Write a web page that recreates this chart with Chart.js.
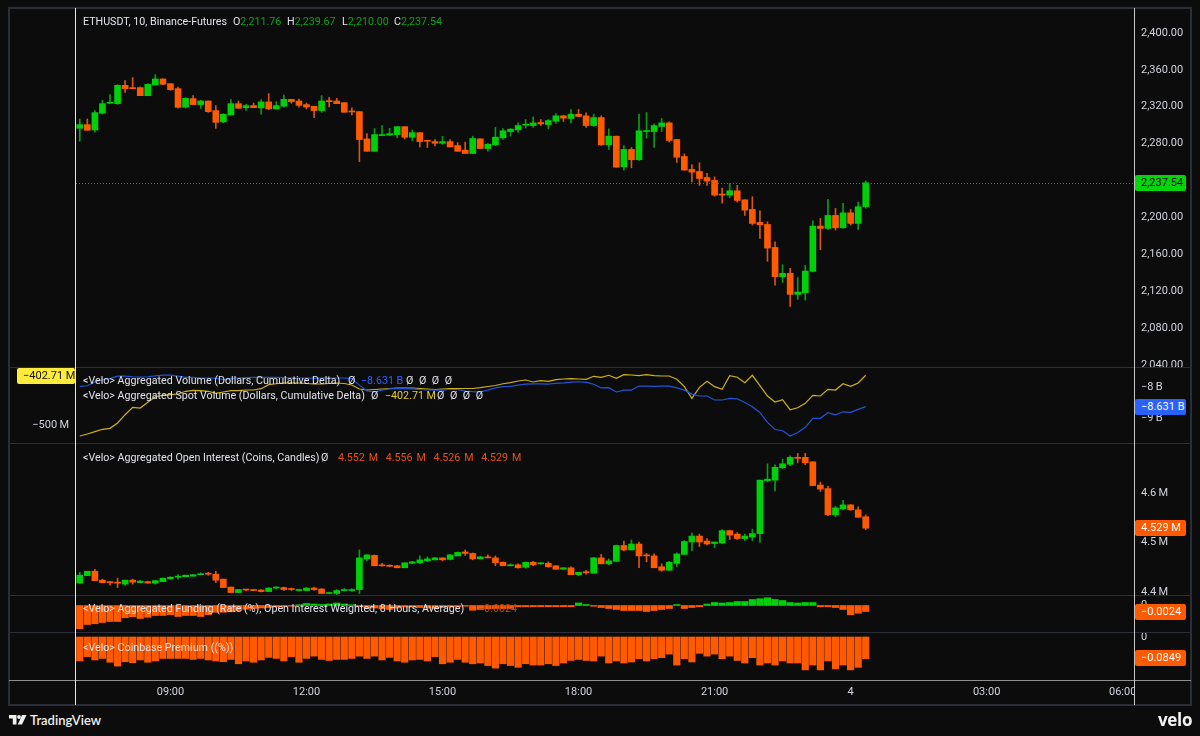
<!DOCTYPE html>
<html><head><meta charset="utf-8">
<script src="https://cdn.jsdelivr.net/npm/chart.js@4/dist/chart.umd.min.js"></script>
<style>
html,body{margin:0;padding:0;background:#0c0c0c;overflow:hidden}
#wrap{position:relative;width:1200px;height:736px;background:#0c0c0c;font-family:Roboto,sans-serif;color:#d1d4dc}
canvas{position:absolute;left:0}
.rule{position:absolute;background:#2a2e39}
.leg{position:absolute;left:83px;font-size:10.7px;line-height:14px;white-space:pre;color:#e0e3ea}
.tag{position:absolute;left:1135px;width:45px;padding-left:6px;height:16px;line-height:16px;font-size:11px;color:#fff;border-radius:2px;white-space:pre}
.g{color:#08a318}.o{color:#e8530f}.b{color:#2962ff}.y{color:#e6cf20}
.n{word-spacing:2.9px}
</style></head><body><div id="wrap">
<canvas id="c1" width="1200" height="359" style="top:8px"></canvas>
<canvas id="c2" width="1200" height="76" style="top:367px"></canvas>
<canvas id="c3" width="1200" height="152" style="top:443px"></canvas>
<canvas id="c4" width="1200" height="37" style="top:595px"></canvas>
<canvas id="c5" width="1200" height="73" style="top:632px"></canvas>

<div class="rule" style="left:1135px;top:681px;width:55px;height:23px;background:#0c0c0c"></div>
<div class="rule" style="left:9px;top:7px;width:1182px;height:2px"></div>
<div class="rule" style="left:9px;top:704px;width:1182px;height:2px"></div>
<div class="rule" style="left:8px;top:7px;width:2px;height:699px"></div>
<div class="rule" style="left:1190px;top:7px;width:2px;height:699px"></div>
<div class="rule" style="left:9px;top:367px;width:1182px;height:1px"></div>
<div class="rule" style="left:9px;top:443px;width:1182px;height:1px"></div>
<div class="rule" style="left:9px;top:595px;width:1182px;height:1px"></div>
<div class="rule" style="left:9px;top:632px;width:1182px;height:1px"></div>
<div class="rule" style="left:9px;top:680px;width:1182px;height:1px;background:#8f8f8f"></div>
<div class="rule" style="left:75px;top:8px;width:1px;height:697px;background:#e6e6e6"></div>
<div class="rule" style="left:1134px;top:8px;width:1px;height:697px;background:#c8c8c8"></div>

<div class="leg" style="top:15px">ETHUSDT, 10, Binance-Futures</div>
<div class="leg" style="top:15px;left:233px">O<span class="g">2,211.76</span></div>
<div class="leg" style="top:15px;left:287px">H<span class="g">2,239.67</span></div>
<div class="leg" style="top:15px;left:342px">L<span class="g">2,210.00</span></div>
<div class="leg" style="top:15px;left:394px">C<span class="g">2,237.54</span></div>

<div class="leg" style="top:374px">&lt;Velo&gt; Aggregated Volume (Dollars, Cumulative Delta)</div>
<div class="leg" style="top:374px;left:348px">Ø</div>
<div class="leg b" style="top:374px;left:361px">−8.631 B</div>
<div class="leg n" style="top:374px;left:406px">Ø Ø Ø Ø</div>
<div class="leg" style="top:389px">&lt;Velo&gt; Aggregated Spot Volume (Dollars, Cumulative Delta)</div>
<div class="leg" style="top:389px;left:371px">Ø</div>
<div class="leg y" style="top:389px;left:385px">−402.71 M</div>
<div class="leg n" style="top:389px;left:437px">Ø Ø Ø Ø</div>
<div class="leg" style="top:451px">&lt;Velo&gt; Aggregated Open Interest (Coins, Candles)</div>
<div class="leg" style="top:451px;left:321px">Ø</div>
<div class="leg o" style="top:451px;left:338px;word-spacing:1.2px">4.552 M  4.556 M  4.526 M  4.529 M</div>
<div class="leg" style="top:602px">&lt;Velo&gt; Aggregated Funding (Rate (%), Open Interest Weighted, 8 Hours, Average)</div>
<div class="leg" style="top:602px;left:478px"><span style="color:#b8480f">−0.0024</span></div>
<div class="leg" style="top:641px">&lt;Velo&gt; Coinbase Premium ((%))</div>

<div class="tag" style="top:175px;background:#00d60a;color:#0c0c0c">2,237.54</div>
<div class="tag" style="top:399px;background:#2962ff">−8.631 B</div>
<div class="tag" style="top:520px;background:#ff5a00">4.529 M</div>
<div class="tag" style="top:604px;background:#ff5a00">−0.0024</div>
<div class="tag" style="top:650px;background:#ff5a00">−0.0849</div>
<div class="tag" style="left:17px;top:368px;width:52px;background:#ffeb3b;color:#111">−402.71 M</div>

<svg style="position:absolute;left:9px;top:715px" width="20" height="11" viewBox="0 0 20 11">
<path d="M0 0h7.5v9.5H3.8V3.6H0z" fill="#f0f0f0"/><circle cx="10" cy="2" r="1.9" fill="#f0f0f0"/><path d="M13 0h4.5L13 9.5H8.8z" fill="#f0f0f0"/></svg>
<div style="position:absolute;left:30px;top:711px;font-size:13px;line-height:18px;font-weight:600;color:#f0f0f0;font-family:Lato,'Open Sans',sans-serif">TradingView</div>
<div style="position:absolute;left:1158px;top:708px;font-size:17px;line-height:24px;font-weight:700;color:#f2f2f2;font-family:'Open Sans',sans-serif;letter-spacing:-.3px">velo</div>
</div>
<script>
const priceOpen=[2296.6,2300.6,2294.8,2312.9,2323.7,2323.3,2343.2,2340.7,2340.7,2332,
2343.6,2350.1,2345,2339.6,2319.4,2328.8,2322.3,2326.2,2315.8,2303.5,
2311.1,2323.3,2319,2321.2,2318.7,2325.2,2317.6,2320.5,2328,2326.2,
2322.3,2320.5,2315.8,2326.2,2326.2,2324.4,2315,2314.7,2285.1,2271.7,
2288.7,2289.1,2289.8,2298.4,2286.9,2291.9,2283.3,2282.2,2280.4,2282.2,
2277.9,2272.9,2269.3,2285.2,2274.7,2278.7,2286.3,2293.1,2294.9,2300,
2299.6,2302.9,2300.7,2304.3,2310.1,2307.2,2311.9,2310.1,2299.6,2308.3,
2278.7,2288.1,2254.9,2273.7,2262.5,2293.1,2293.1,2298.6,2302.5,2284.5,
2266.1,2252,2249.8,2243.3,2240.1,2225.3,2224.2,2228.9,2219.1,2208.7,
2194.6,2192.4,2167.5,2135.7,2139.4,2116.6,2118.4,2141.5,2190.6,2188.1,
2202.2,2188.8,2205,2193.5,2211.76];
const priceHigh=[2306.7,2306.7,2315.8,2327,2333.1,2343.9,2348.3,2351.5,2341.4,2345,
2354.8,2350.1,2345,2341.4,2329.8,2332,2327,2326.2,2321.2,2312.5,
2327.7,2326.2,2322.6,2324,2327.7,2334.2,2325.5,2332.7,2328,2328.4,
2324,2320.5,2332,2330.2,2329.1,2324.4,2318.7,2314.7,2290.9,2296.3,
2299.5,2296.6,2298.4,2298.4,2294.8,2291.9,2283.3,2284.4,2288,2284.4,
2281.1,2281.6,2288.1,2285.2,2280.1,2297.5,2296.4,2296.4,2302.5,2306.1,
2309,2306.1,2306.1,2312.6,2310.8,2317,2317,2313.4,2311.9,2310.1,
2296,2288.1,2278,2275.8,2311.9,2313.7,2301.4,2307.2,2303.6,2284.5,
2269,2257.4,2259.2,2247.7,2244,2231.8,2236.8,2234.7,2219.1,2222.4,
2207.2,2195.3,2173.6,2148.7,2144.8,2134.7,2148,2196.4,2198.9,2219.5,
2209.8,2215.2,2208.7,2216.6,2239.67];
const priceLow=[2282.6,2294.5,2292.3,2312.2,2323.7,2322.6,2335.6,2339.6,2332,2332,
2343.6,2343.9,2337.8,2318.3,2318.7,2322.3,2318.3,2314,2296.6,2302.4,
2311.1,2318.3,2316.1,2319,2311.8,2316.9,2317.6,2319.7,2323.7,2319.4,
2317.6,2308.2,2314,2319.7,2323.3,2314,2311.1,2260.5,2271.7,2271.7,
2288.7,2289.1,2286.2,2285.1,2283.3,2276.4,2275.7,2277.5,2279.3,2276.4,
2271.7,2269.3,2269,2274.7,2271.8,2278,2284.5,2288.1,2292.4,2296.8,
2297.5,2299.6,2296,2301.8,2304,2302.5,2309.4,2297.5,2298.6,2278,
2273.7,2254.5,2251.3,2253.8,2261.7,2285.9,2275.8,2293.1,2281.6,2259.6,
2251.3,2238.6,2234.7,2234.7,2223.1,2215.5,2221.3,2216.6,2202.2,2191.7,
2177.3,2152.4,2126.7,2129.6,2103.6,2111.2,2110.5,2140.8,2165,2187,
2186.3,2188.5,2191.7,2187,2210];
const priceClose=[2300.6,2294.5,2313.6,2323.3,2324.4,2343.2,2339.6,2339.6,2332,2344.3,
2350.1,2344.3,2338.5,2319.4,2329.1,2322.3,2326.2,2314.7,2303.1,2311.8,
2323.3,2318.3,2321.2,2319,2325.2,2317.6,2321.2,2328,2325.5,2321.5,
2319.7,2315.8,2326.2,2325.5,2323.3,2314,2314.3,2284.4,2271.7,2289.8,
2289.8,2290.9,2298.4,2286.9,2291.9,2282.2,2282.6,2280.4,2282.2,2276.4,
2271.7,2269.3,2285.6,2274.7,2279.4,2287,2293.9,2295.7,2299.6,2300.7,
2302.5,2301.4,2305,2310.1,2307.6,2311.9,2309.4,2299.6,2308.3,2278.7,
2288.1,2254.5,2273.7,2262.5,2293.9,2294.2,2299.6,2302.5,2283.4,2265.3,
2251.3,2249.1,2242.2,2239.4,2224.2,2224.2,2228.9,2218.4,2207.9,2193.5,
2192,2166.8,2135.7,2139.4,2116.6,2119.1,2141.9,2190.6,2188.1,2202.2,
2188.8,2205,2193.5,2211.6,2237.54];

const oiOpen=[4.418,4.433,4.442,4.424,4.421,4.420,4.416,4.424,4.419,4.421,
4.418,4.421,4.427,4.430,4.431,4.432,4.435,4.438,4.436,4.426,
4.410,4.399,4.405,4.405,4.404,4.401,4.408,4.409,4.407,4.403,
4.403,4.408,4.406,4.397,4.397,4.403,4.403,4.405,4.467,4.474,
4.455,4.454,4.453,4.449,4.458,4.459,4.463,4.465,4.469,4.466,
4.473,4.481,4.478,4.467,4.471,4.469,4.460,4.453,4.455,4.450,
4.460,4.457,4.458,4.453,4.446,4.449,4.435,4.440,4.438,4.469,
4.457,4.462,4.494,4.485,4.497,4.474,4.473,4.451,4.444,4.458,
4.476,4.501,4.513,4.503,4.498,4.499,4.524,4.517,4.508,4.511,
4.518,4.625,4.626,4.651,4.658,4.672,4.672,4.663,4.616,4.609,
4.556,4.568,4.576,4.566,4.552];
const oiHigh=[4.440,4.442,4.446,4.426,4.421,4.428,4.424,4.426,4.424,4.422,
4.424,4.428,4.431,4.435,4.434,4.435,4.439,4.440,4.442,4.426,
4.410,4.405,4.405,4.405,4.405,4.409,4.411,4.410,4.408,4.406,
4.409,4.410,4.407,4.400,4.405,4.407,4.407,4.485,4.475,4.475,
4.458,4.455,4.454,4.459,4.462,4.473,4.471,4.470,4.469,4.476,
4.481,4.485,4.479,4.472,4.475,4.473,4.461,4.457,4.457,4.461,
4.462,4.459,4.461,4.453,4.449,4.451,4.440,4.444,4.470,4.476,
4.467,4.495,4.503,4.505,4.501,4.478,4.477,4.457,4.462,4.479,
4.504,4.519,4.517,4.508,4.501,4.526,4.525,4.520,4.517,4.527,
4.626,4.659,4.657,4.668,4.675,4.680,4.680,4.663,4.622,4.614,
4.573,4.585,4.577,4.572,4.556];
const oiLow=[4.418,4.433,4.423,4.419,4.414,4.409,4.414,4.416,4.419,4.418,
4.416,4.421,4.426,4.426,4.430,4.432,4.435,4.434,4.419,4.409,
4.398,4.399,4.402,4.403,4.400,4.401,4.407,4.403,4.403,4.402,
4.403,4.403,4.397,4.397,4.395,4.402,4.401,4.397,4.463,4.453,
4.452,4.451,4.449,4.449,4.457,4.458,4.461,4.465,4.463,4.465,
4.473,4.474,4.465,4.467,4.469,4.453,4.453,4.453,4.448,4.448,
4.453,4.456,4.450,4.446,4.446,4.435,4.433,4.436,4.438,4.457,
4.455,4.461,4.483,4.485,4.449,4.461,4.449,4.442,4.444,4.451,
4.476,4.483,4.492,4.495,4.490,4.498,4.506,4.506,4.504,4.504,
4.500,4.623,4.604,4.649,4.655,4.661,4.657,4.615,4.603,4.554,
4.552,4.566,4.565,4.550,4.526];
const oiClose=[4.434,4.442,4.423,4.419,4.419,4.418,4.424,4.420,4.422,4.418,
4.423,4.428,4.430,4.432,4.434,4.435,4.437,4.436,4.424,4.409,
4.399,4.405,4.404,4.403,4.401,4.408,4.409,4.405,4.405,4.405,
4.408,4.405,4.397,4.399,4.403,4.405,4.405,4.469,4.475,4.453,
4.453,4.452,4.449,4.459,4.461,4.465,4.467,4.469,4.465,4.475,
4.480,4.478,4.467,4.471,4.469,4.459,4.453,4.455,4.449,4.460,
4.455,4.459,4.451,4.446,4.449,4.435,4.440,4.439,4.469,4.457,
4.463,4.494,4.485,4.497,4.473,4.473,4.449,4.444,4.460,4.477,
4.502,4.513,4.501,4.497,4.501,4.524,4.515,4.508,4.513,4.518,
4.626,4.628,4.652,4.659,4.672,4.670,4.661,4.615,4.608,4.556,
4.570,4.576,4.566,4.551,4.529];

const spotDelta=[-521.5,-517.6,-513.1,-508.4,-506.5,-496.1,-479.9,-465.4,-466.8,-455.6,
-444.7,-441.9,-440.8,-439.4,-434.1,-432.2,-432.9,-434.1,-438,-435.5,
-432.9,-432.9,-431.6,-431.6,-429,-421.2,-419.3,-417.9,-417.9,-417.9,
-418.9,-419.8,-419.8,-418.9,-417.9,-418.9,-421.8,-429.6,-431.6,-430.6,
-429.6,-428.6,-427.7,-427.7,-427.7,-428.6,-429.6,-430.6,-429.6,-429,
-429,-428.6,-428.6,-427.1,-424.7,-422.8,-419.3,-417.3,-414,-412,
-415.9,-413.4,-414.6,-411.4,-410.1,-409.5,-410.1,-410.7,-404.8,-406.7,
-402.8,-408.7,-401.7,-402.2,-403.6,-401.7,-403.6,-404.2,-404.2,-410.7,
-425.1,-447.8,-426.3,-414.6,-425.1,-430.2,-403.6,-406.7,-417.3,-402.8,
-423.2,-443.3,-455,-450.5,-470.1,-466.2,-457.6,-441.9,-443.3,-430.2,
-431.6,-419.3,-424.3,-417.9,-402.71];
const aggDelta=[-7.98,-7.96,-7.84,-7.76,-7.73,-7.65,-7.65,-7.67,-7.68,-7.67,
-7.64,-7.62,-7.62,-7.65,-7.69,-7.69,-7.71,-7.71,-7.72,-7.76,
-7.73,-7.71,-7.70,-7.69,-7.69,-7.69,-7.69,-7.70,-7.71,-7.71,
-7.71,-7.72,-7.71,-7.71,-7.71,-7.71,-7.73,-7.94,-8.13,-8.16,
-8.10,-8.06,-8.05,-8.05,-8.06,-8.08,-8.09,-8.10,-8.10,-8.08,
-8.08,-8.13,-8.15,-8.16,-8.10,-8.03,-7.99,-7.98,-7.94,-7.91,
-7.90,-7.90,-7.91,-7.88,-7.87,-7.84,-7.83,-7.85,-7.91,-8.03,
-8.02,-8.16,-8.10,-8.10,-7.97,-7.97,-7.98,-7.97,-7.97,-8.03,
-8.10,-8.23,-8.29,-8.29,-8.42,-8.42,-8.37,-8.38,-8.50,-8.635,
-8.82,-9.14,-9.37,-9.41,-9.58,-9.47,-9.30,-9.01,-9.01,-8.83,
-8.90,-8.80,-8.82,-8.72,-8.631];
const funding=[-.0093,-.0076,-.0073,-.0068,-.0064,-.0064,-.0049,-.0045,-.0052,-.0047,
-.0040,-.0040,-.0037,-.0044,-.0040,-.0040,-.0044,-.0037,-.0027,-.0027,
-.0025,-.0020,-.0015,-.0012,-.0010,-.0008,-.0005,-.0004,-.0003,.0003,
.0008,.0006,.0004,.0006,.0010,.0006,.0003,-.0004,-.0008,-.0010,
-.0013,-.0016,-.0010,-.0006,-.0006,-.0008,-.0010,-.0012,-.0008,-.0006,
-.0005,-.0003,-.0019,-.0016,-.0013,-.0012,-.0012,-.0012,-.0005,-.0005,
-.0005,-.0005,-.0005,-.0005,-.0005,-.0005,.0010,.0004,-.0003,-.0008,
-.0012,-.0016,-.0020,-.0020,-.0020,-.0024,-.0020,-.0016,-.0012,.0004,
-.0012,-.0008,-.0005,.0006,.0012,.0010,.0012,.0016,.0016,.0024,
.0027,.0031,.0024,.0020,.0012,.0010,.0012,.0012,-.0005,-.0005,
-.0008,-.0016,-.0037,-.0031,-.0024];
const premium=[-.094,-.077,-.090,-.084,-.099,-.114,-.097,-.101,-.090,-.099,
-.094,-.084,-.084,-.084,-.084,-.088,-.084,-.090,-.094,-.097,
-.088,-.105,-.094,-.099,-.090,-.080,-.084,-.094,-.077,-.099,
-.084,-.075,-.088,-.092,-.088,-.088,-.084,-.075,-.084,-.075,
-.090,-.080,-.094,-.099,-.090,-.088,-.094,-.077,-.105,-.099,
-.088,-.099,-.105,-.102,-.112,-.122,-.105,-.112,-.119,-.105,
-.110,-.110,-.105,-.112,-.102,-.092,-.088,-.092,-.094,-.075,
-.102,-.094,-.102,-.098,-.085,-.094,-.085,-.081,-.067,-.110,
-.085,-.098,-.064,-.075,-.067,-.085,-.075,-.092,-.102,-.081,
-.110,-.102,-.110,-.094,-.102,-.102,-.129,-.110,-.129,-.094,
-.125,-.110,-.129,-.119,-.0849];

const priceTicks=[2400,2360,2320,2280,2240,2200,2160,2120,2080,2040];
const aggTicks=[-8,-9];
const spotTicks=[-500];
const oiTicks=[4.4,4.5,4.6];
const fundingTicks=[0];
const premiumTicks=[0];
const timeTicks=['09:00','12:00','15:00','18:00','21:00','4','03:00','06:00'];
const lastPrice=2237.54;

// 140 ten-minute slots starting at 07:00: 105 candles and the empty future
const categories=[];
for(let i=0;i<140;i++){const m=(7*60+i*10)%1440,h=Math.floor(m/60),s=String(h).padStart(2,'0')+':'+String(m%60).padStart(2,'0');categories.push(s==='00:00'?'4':s);}

const UP='#00d00a',DOWN='#ff5a00',UPW='#0b9c17',DOWNW='#d9541a';
const FONT={family:'Roboto,sans-serif',size:11};
const TICK='#d1d4dc';
const fit=(w)=>s=>{s.width=w;s.paddingTop=0;s.paddingBottom=0;};
const useTicks=a=>s=>{s.ticks=a.map(v=>({value:v}));};

function yAxis(min,max,ticks,fmt,pos,w){
  return {type:'linear',position:pos||'right',min,max,afterBuildTicks:useTicks(ticks),afterFit:fit(w||66),
    grid:{display:false,drawTicks:false},border:{display:false},
    ticks:{color:TICK,font:FONT,padding:7,callback:fmt,autoSkip:false,maxRotation:0}};
}
const xHidden={type:'category',display:false,offset:true,grid:{display:false}};
function base(scales,padLeft){
  return {animation:false,responsive:false,events:[],
    layout:{padding:{left:padLeft===undefined?76:padLeft,right:0,top:0,bottom:0}},
    plugins:{legend:{display:false},tooltip:{enabled:false}},scales};
}
function candles(o,h,l,c){
  const colors=c.map((v,i)=>v>=o[i]?UP:DOWN),wc=c.map((v,i)=>v>=o[i]?UPW:DOWNW);
  return [
   {type:'bar',order:2,grouped:false,barThickness:1,backgroundColor:wc,borderWidth:0,data:h.map((v,i)=>[l[i],v])},
   {type:'bar',order:1,grouped:false,barThickness:6,minBarLength:1,backgroundColor:colors,borderWidth:0,data:c.map((v,i)=>[o[i],v])}
  ];
}
const lastLine={id:'lastLine',afterDatasetsDraw(ch){const {ctx,chartArea:a,scales:{y}}=ch,py=Math.round(y.getPixelForValue(lastPrice))+.5;
  ctx.save();ctx.strokeStyle='#1f9a33';ctx.lineWidth=1;ctx.setLineDash([1,2]);ctx.beginPath();ctx.moveTo(a.left,py);ctx.lineTo(a.right,py);ctx.stroke();ctx.restore();}};

new Chart('c1',{type:'bar',data:{labels:categories,datasets:candles(priceOpen,priceHigh,priceLow,priceClose)},
  options:base({x:xHidden,y:yAxis(2037.9,2427,priceTicks,v=>v.toLocaleString('en-US',{minimumFractionDigits:2}))}),plugins:[lastLine]});

new Chart('c2',{type:'line',data:{labels:categories,datasets:[
   {yAxisID:'y',data:aggDelta,borderColor:'#1f56d6',borderWidth:1.2,pointRadius:0,tension:0},
   {yAxisID:'yl',data:spotDelta,borderColor:'#cdb01f',borderWidth:1.2,pointRadius:0,tension:0}]},
  options:base({x:xHidden,y:yAxis(-9.806,-7.355,aggTicks,v=>'−'+Math.abs(v)+'\u2009B'),
    yl:yAxis(-535.2,-386.6,spotTicks,v=>'−'+Math.abs(v)+'\u2009M','left',76)},0)});

new Chart('c3',{type:'bar',data:{labels:categories,datasets:candles(oiOpen,oiHigh,oiLow,oiClose)},
  options:base({x:xHidden,y:yAxis(4.394,4.701,oiTicks,v=>v.toFixed(1)+'\u2009M')})});

new Chart('c4',{type:'bar',data:{labels:categories,datasets:[{grouped:false,barThickness:6.5,backgroundColor:funding.map(v=>v>=0?UP:DOWN),borderWidth:0,data:funding}]},
  options:base({x:xHidden,y:yAxis(-.0106,.0042,fundingTicks,v=>String(v))})});

const xTime={type:'category',offset:true,position:'bottom',grid:{display:false,drawTicks:false},border:{display:false},
  afterFit:s=>{s.height=25;s.paddingLeft=0;s.paddingRight=0;},
  ticks:{color:TICK,font:FONT,padding:6,autoSkip:false,maxRotation:0,minRotation:0,
    callback(v,i){const t=categories[i];return timeTicks.includes(t)?t:'';}}};
new Chart('c5',{type:'bar',data:{labels:categories,datasets:[{grouped:false,barThickness:6.5,backgroundColor:DOWN,borderWidth:0,data:premium}]},
  options:base({x:xTime,y:yAxis(-.1686,.0196,premiumTicks,v=>String(v))})});
</script></body></html>
